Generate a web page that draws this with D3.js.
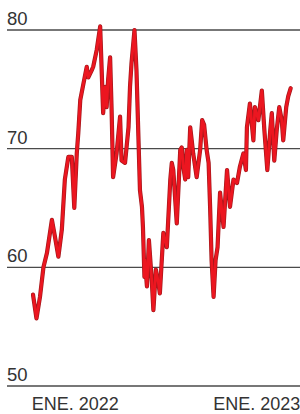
<!DOCTYPE html>
<html>
<head>
<meta charset="utf-8">
<script src="https://cdn.jsdelivr.net/npm/d3@7"></script>
<style>
html,body{margin:0;padding:0;background:#fff;}
svg{display:block;}
text{font-family:"Liberation Sans",Arial,sans-serif;fill:#333;}
</style>
</head>
<body>
<svg id="chart" width="300" height="414"></svg>
<script>
const dates = ["2021-10-08","2021-10-15","2021-10-22","2021-10-29","2021-11-05","2021-11-15","2021-11-21","2021-11-28","2021-12-05","2021-12-11",
"2021-12-18","2021-12-25","2021-12-30","2022-01-04","2022-01-07","2022-01-11","2022-01-17","2022-01-24","2022-01-27","2022-02-03",
"2022-02-06","2022-02-13","2022-02-20","2022-02-26","2022-03-02","2022-03-05","2022-03-08","2022-03-12","2022-03-15","2022-03-18",
"2022-03-25","2022-04-01","2022-04-04","2022-04-11","2022-04-18","2022-04-21","2022-04-24","2022-04-30","2022-05-04","2022-05-11",
"2022-05-15","2022-05-17","2022-05-20","2022-05-21","2022-05-25","2022-05-29","2022-06-04","2022-06-07","2022-06-12","2022-06-17",
"2022-06-20","2022-06-27","2022-07-04","2022-07-11","2022-07-14","2022-07-17","2022-07-24","2022-07-31","2022-08-03","2022-08-06",
"2022-08-10","2022-08-13","2022-08-16","2022-08-20","2022-08-23","2022-08-26","2022-09-02","2022-09-09","2022-09-13","2022-09-17",
"2022-09-22","2022-09-26","2022-09-29","2022-10-02","2022-10-06","2022-10-10","2022-10-14","2022-10-19","2022-10-26","2022-11-02",
"2022-11-08","2022-11-15","2022-11-22","2022-11-28","2022-12-05","2022-12-10","2022-12-12","2022-12-18","2022-12-25","2022-12-28",
"2023-01-04","2023-01-11","2023-01-16","2023-01-22","2023-01-28","2023-01-31","2023-02-05","2023-02-10","2023-02-15","2023-02-20",
"2023-02-23","2023-03-01","2023-03-05","2023-03-10"];
const values = [57.7,55.7,57.5,60.0,61.2,64.0,62.6,60.9,63.2,67.4,
69.3,69.3,65.0,69.6,71.3,74.1,75.4,76.9,76.0,76.6,
76.9,78.3,80.3,73.0,75.2,73.5,75.8,77.7,73.3,67.6,
69.6,72.7,69.0,68.8,71.8,75.2,77.2,80.0,76.6,66.5,
65.1,63.4,59.2,60.6,58.4,62.3,58.7,56.4,59.8,58.7,
57.8,62.9,61.7,67.4,68.8,68.2,63.7,69.9,70.1,68.5,
67.4,69.9,67.6,71.8,70.7,69.6,67.6,69.9,72.4,72.0,
69.9,68.8,65.1,60.6,57.5,60.6,61.7,66.3,63.4,68.2,
65.1,67.4,67.1,68.5,69.6,68.2,71.8,73.8,70.7,73.5,
72.4,74.9,71.6,68.2,71.6,73.0,69.0,71.6,73.5,72.4,
70.7,73.5,74.4,75.1];
const yTicks = [50,60,70,80];
const xTickDates = ["2022-01-01","2023-01-01"];
const xTickLabels = ["ENE. 2022","ENE. 2023"];

const parse = d3.timeParse("%Y-%m-%d");
const data = dates.map((d,i)=>({date:parse(d), value:values[i]}));

const svg = d3.select("#chart");
const x = d3.scaleTime()
  .domain([parse("2021-10-08"), parse("2023-03-10")])
  .range([33, 290.7]);
const y = d3.scaleLinear().domain([50,80]).range([386,30]);

// gridlines
const grid = svg.append("g");
grid.selectAll("line").data(yTicks).join("line")
  .attr("x1",7).attr("x2",300)
  .attr("y1",d=>y(d)).attr("y2",d=>y(d))
  .attr("stroke","#4a4a4a").attr("stroke-width",1.3);
grid.selectAll("text").data(yTicks).join("text")
  .attr("x",7).attr("y",d=>y(d)-5)
  .attr("font-size",18.5)
  .text(d=>d);

// x labels
svg.append("g").selectAll("text").data(xTickDates).join("text")
  .attr("x",d=>x(parse(d)))
  .attr("y",410)
  .attr("text-anchor","middle")
  .attr("font-size",18)
  .text((d,i)=>xTickLabels[i]);

const line = d3.line().x(d=>x(d.date)).y(d=>y(d.value));
svg.append("path").datum(data).attr("d",line)
  .attr("fill","none").attr("stroke","#a3181c").attr("stroke-width",4.2)
  .attr("stroke-linejoin","round").attr("stroke-linecap","round");
svg.append("path").datum(data).attr("d",line)
  .attr("fill","none").attr("stroke","#ec1620").attr("stroke-width",2.8)
  .attr("stroke-linejoin","round").attr("stroke-linecap","round");
</script>
</body>
</html>
